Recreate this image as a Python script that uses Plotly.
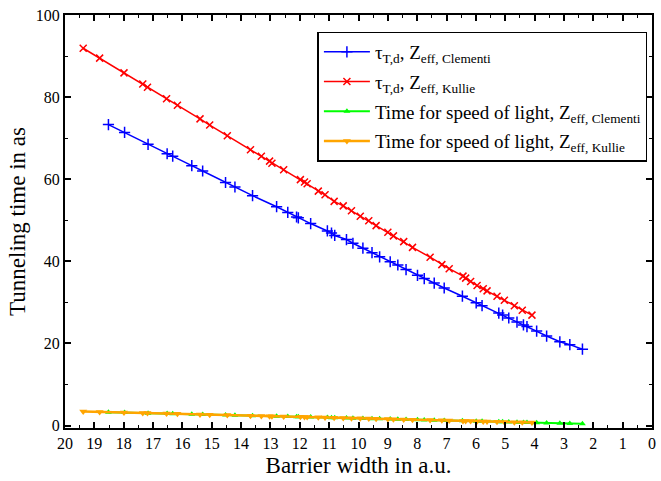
import plotly.graph_objects as go

# Barrier width (a.u.) and tunneling times (as)
x_clementi = [18.52, 17.97, 17.17, 16.52, 16.33, 15.68, 15.31, 14.53, 14.21, 13.61, 12.79, 12.41,
              12.11, 12.05, 11.63, 11.06, 10.92, 10.81, 10.41, 10.19, 9.85, 9.54, 9.28, 8.92, 8.66,
              8.38, 7.99, 7.76, 7.42, 7.08, 6.46, 5.99, 5.79, 5.22, 5.09, 4.88, 4.60, 4.38, 4.26,
              3.93, 3.59, 3.14, 2.80, 2.37]
tau_clementi = [73.3, 71.4, 68.5, 66.2, 65.6, 63.3, 62.0, 59.2, 58.1, 56.0, 53.3, 51.9,
                50.8, 50.6, 49.2, 47.4, 46.9, 46.3, 45.3, 44.4, 43.2, 42.1, 41.1, 39.9, 39.1,
                38.0, 36.6, 35.8, 34.7, 33.5, 31.5, 29.9, 29.2, 27.4, 26.9, 26.2, 25.2, 24.5, 24.1,
                23.0, 21.8, 20.4, 19.7, 18.6]
light_clementi = [3.26, 3.16, 3.02, 2.91, 2.87, 2.76, 2.69, 2.56, 2.50, 2.40, 2.25, 2.18,
                  2.13, 2.12, 2.05, 1.95, 1.92, 1.90, 1.83, 1.79, 1.73, 1.68, 1.63, 1.57, 1.52,
                  1.47, 1.41, 1.37, 1.31, 1.25, 1.14, 1.05, 1.02, 0.92, 0.90, 0.86, 0.81, 0.77, 0.75,
                  0.69, 0.63, 0.55, 0.49, 0.42]

x_kullie = [19.38, 18.82, 17.99, 17.35, 17.19, 16.54, 16.17, 15.40, 15.07, 14.47, 13.68, 13.31,
            13.03, 12.95, 12.55, 11.98, 11.84, 11.75, 11.37, 11.14, 10.83, 10.52, 10.24, 9.94,
            9.65, 9.40, 9.00, 8.81, 8.46, 8.16, 7.56, 7.16, 6.91, 6.44, 6.35, 6.18, 5.96, 5.75,
            5.62, 5.28, 5.03, 4.69, 4.42, 4.09]
tau_kullie = [91.9, 89.5, 85.9, 83.2, 82.4, 79.6, 78.0, 74.7, 73.2, 70.6, 67.2, 65.6,
              64.4, 63.9, 62.3, 59.9, 59.3, 58.9, 57.1, 56.2, 54.6, 53.5, 52.3, 51.0,
              49.9, 48.7, 47.1, 46.2, 44.8, 43.4, 41.0, 39.2, 38.2, 36.4, 35.9, 35.1, 34.1, 33.3,
              32.8, 31.5, 30.5, 29.2, 28.1, 26.9]
light_kullie = [3.41, 3.31, 3.17, 3.05, 3.03, 2.91, 2.85, 2.71, 2.65, 2.55, 2.41, 2.34,
                2.29, 2.28, 2.21, 2.11, 2.08, 2.07, 2.00, 1.96, 1.91, 1.85, 1.80, 1.75,
                1.70, 1.65, 1.58, 1.55, 1.49, 1.44, 1.33, 1.26, 1.22, 1.13, 1.12, 1.09, 1.05, 1.01,
                0.99, 0.93, 0.89, 0.83, 0.78, 0.72]

names = ["τ<sub>T,d</sub>, Z<sub>eff, Clementi</sub>",
         "τ<sub>T,d</sub>, Z<sub>eff, Kullie</sub>",
         "Time for speed of light, Z<sub>eff, Clementi</sub>",
         "Time for speed of light, Z<sub>eff, Kullie</sub>"]

FONT = "Liberation Serif, Times New Roman, serif"

fig = go.Figure()
fig.add_trace(go.Scatter(x=x_clementi, y=tau_clementi, mode="lines+markers", name=names[0],
                         legendgroup="a",
                         line=dict(color="#0000ff", width=1.5),
                         marker=dict(symbol="cross-thin", size=8, line=dict(color="#0000ff", width=1.5))))
fig.add_trace(go.Scatter(x=x_kullie, y=tau_kullie, mode="lines+markers", name=names[1],
                         legendgroup="b",
                         line=dict(color="#ff0000", width=1.5),
                         marker=dict(symbol="x-thin", size=7, line=dict(color="#ff0000", width=1.5))))
fig.add_trace(go.Scatter(x=x_clementi, y=light_clementi, mode="lines+markers", name=names[2],
                         legendgroup="c",
                         line=dict(color="#00ff00", width=2),
                         marker=dict(symbol="triangle-up", size=6, color="#00ff00")))
fig.add_trace(go.Scatter(x=x_kullie, y=light_kullie, mode="lines+markers", name=names[3],
                         legendgroup="d",
                         line=dict(color="#ffa500", width=2.5),
                         marker=dict(symbol="triangle-down", size=7, color="#ffa500")))

axis_common = dict(showline=True, linecolor="black", linewidth=2, mirror="allticks",
                   ticks="inside", ticklen=6, tickwidth=1.5, tickcolor="black",
                   showgrid=False, zeroline=False,
                   tickfont=dict(family=FONT, size=16, color="black"))

fig.update_xaxes(range=[20, 0], dtick=1, tick0=0,
                 minor=dict(dtick=0.5, ticks="inside", ticklen=3, tickwidth=1.2, tickcolor="black"),
                 title=dict(text="Barrier width in a.u.", font=dict(family=FONT, size=23, color="black"),
                            standoff=6),
                 **axis_common)
fig.update_yaxes(range=[-0.6, 100], dtick=20, tick0=0,
                 minor=dict(dtick=10, ticks="inside", ticklen=3, tickwidth=1.2, tickcolor="black"),
                 title=dict(text="Tunneling time in as", font=dict(family=FONT, size=23, color="black"),
                            standoff=4),
                 **axis_common)

fig.update_layout(
    width=661, height=481,
    margin=dict(l=65, r=5, t=15, b=53),
    paper_bgcolor="white", plot_bgcolor="white",
    font=dict(family=FONT, color="black"),
    legend=dict(x=0.43, y=0.96, xanchor="left", yanchor="top",
                bordercolor="black", borderwidth=1.5, bgcolor="white",
                font=dict(family=FONT, size=19, color="black"),
                itemwidth=46, tracegroupgap=2),
    showlegend=True,
)

fig.write_html("out.html")
